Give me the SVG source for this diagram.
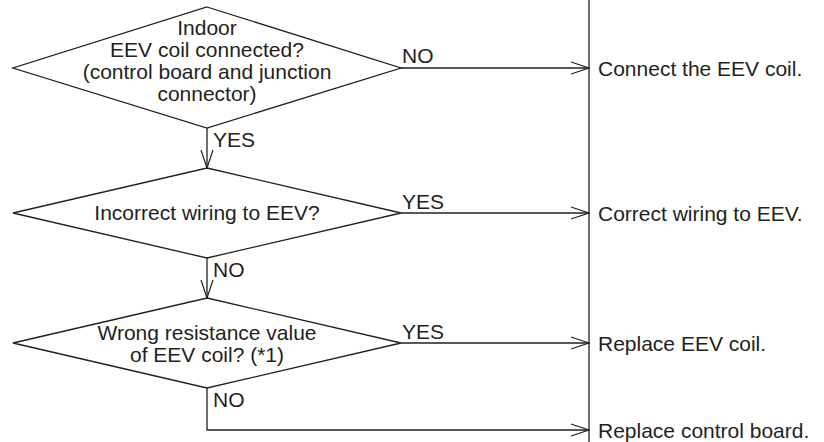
<svg xmlns="http://www.w3.org/2000/svg" width="824" height="442" viewBox="0 0 824 442">
<defs>
<marker id="arr" markerUnits="userSpaceOnUse" markerWidth="20" markerHeight="14" refX="18" refY="6" orient="auto" overflow="visible">
<path d="M0,0 L18,6 L0,12" fill="none" stroke="#231f20" stroke-width="1.2"/>
</marker>
<style>
.shape{fill:#fff;stroke:#231f20;stroke-width:1.3}
.line{fill:none;stroke:#231f20;stroke-width:1.3}
text{font-family:"Liberation Sans",Arial,sans-serif;font-size:21px;fill:#231f20}
.c{text-anchor:middle}
</style>
</defs>
<rect width="824" height="442" fill="#fff"/>
<g id="connectors">
<line class="line" x1="589" y1="0" x2="589" y2="442"/>
<line class="line" x1="401" y1="68" x2="589" y2="68" marker-end="url(#arr)"/>
<line class="line" x1="207" y1="128" x2="207" y2="168" marker-end="url(#arr)"/>
<line class="line" x1="401" y1="213" x2="589" y2="213" marker-end="url(#arr)"/>
<line class="line" x1="207" y1="258" x2="207" y2="298" marker-end="url(#arr)"/>
<line class="line" x1="401" y1="343" x2="589" y2="343" marker-end="url(#arr)"/>
<polyline class="line" points="207,388 207,430 589,430" marker-end="url(#arr)"/>
<text x="402" y="63">NO</text>
<text x="213" y="147">YES</text>
<text x="402" y="209">YES</text>
<text x="213" y="277">NO</text>
<text x="402" y="339">YES</text>
<text x="213" y="407">NO</text>
</g>
<g id="d1">
<polygon class="shape" points="207,7 401,68 207,128 13,68"/>
<text class="c" x="207" y="35">Indoor</text>
<text class="c" x="207" y="57">EEV coil connected?</text>
<text class="c" x="207" y="79">(control board and junction</text>
<text class="c" x="207" y="101">connector)</text>
</g>
<g id="d2">
<polygon class="shape" points="207,168 401,213 207,258 13,213"/>
<text class="c" x="207" y="220">Incorrect wiring to EEV?</text>
</g>
<g id="d3">
<polygon class="shape" points="207,298 401,343 207,388 13,343"/>
<text class="c" x="207" y="340">Wrong resistance value</text>
<text class="c" x="207" y="362">of EEV coil? (*1)</text>
</g>
<g id="r1"><text x="598" y="76">Connect the EEV coil.</text></g>
<g id="r2"><text x="598" y="221">Correct wiring to EEV.</text></g>
<g id="r3"><text x="598" y="351">Replace EEV coil.</text></g>
<g id="r4"><text x="598" y="438">Replace control board.</text></g>
</svg>
